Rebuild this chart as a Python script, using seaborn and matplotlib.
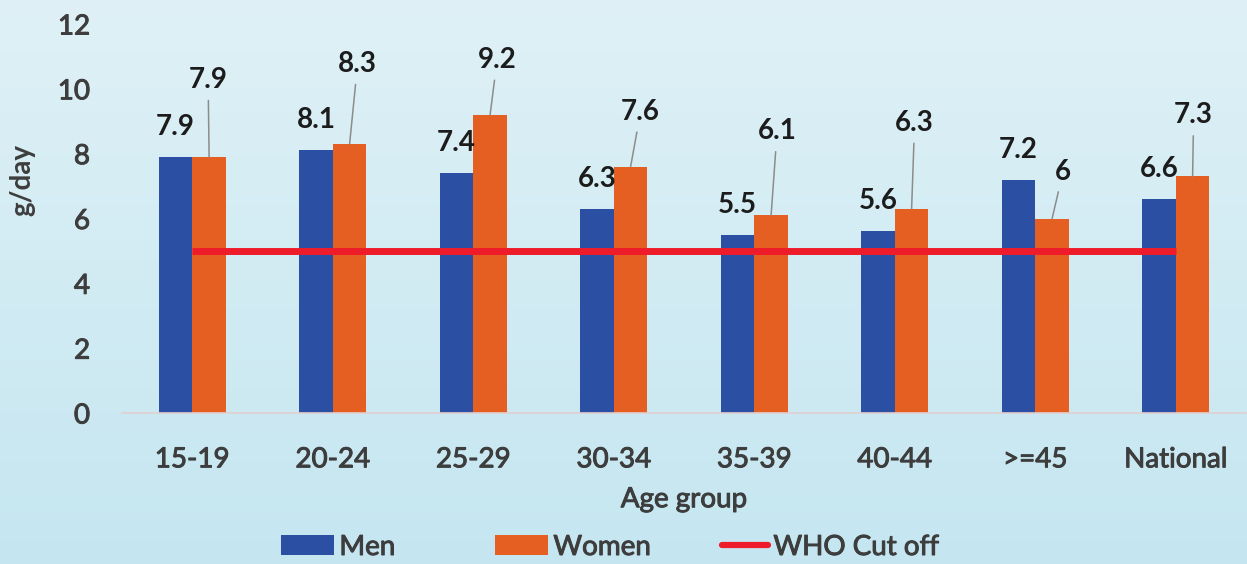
import numpy as np
import pandas as pd
import matplotlib
matplotlib.use("Agg")
import matplotlib.pyplot as plt
import matplotlib.patheffects as pe
from matplotlib.patches import Patch
from matplotlib.lines import Line2D
import seaborn as sns

# Salt intake (g/day) by age group and sex
age_groups = ["15-19", "20-24", "25-29", "30-34", "35-39", "40-44", ">=45", "National"]
men = [7.9, 8.1, 7.4, 6.3, 5.5, 5.6, 7.2, 6.6]
women = [7.9, 8.3, 9.2, 7.6, 6.1, 6.3, 6.0, 7.3]
who_cutoff = 5
y_ticks = [0, 2, 4, 6, 8, 10, 12]

# label placement for the women's values (pixel offsets from bar top)
women_label_offsets = [(-1, 77), (8, 80), (7, 55), (10, 55), (6, 84), (3, 86), (11, 47), (1, 61)]

MEN_C = "#2B4FA3"
WOMEN_C = "#E55F22"
RED = "#EE1C2A"
TXT = "#3d3d3d"

df = pd.DataFrame({
    "Age group": age_groups * 2,
    "value": men + women,
    "sex": ["Men"] * len(men) + ["Women"] * len(women),
})

sns.set_theme(style="white")
plt.rcParams["font.family"] = ["Lato", "DejaVu Sans"]

# slightly heavier strokes for the regular-weight texts
heavy = [pe.withStroke(linewidth=0.7, foreground=TXT)]

fig = plt.figure(figsize=(12.47, 5.64), dpi=100)

# soft light-blue gradient backdrop
bg = fig.add_axes([0, 0, 1, 1], zorder=-10)
top = np.array([223, 241, 246]) / 255
bot = np.array([197, 230, 241]) / 255
t = np.linspace(0, 1, 256)[:, None, None]
grad = top * (1 - t) + bot * t
grad = np.repeat(grad, 4, axis=1)
bg.imshow(grad, aspect="auto", extent=[0, 1, 0, 1])
bg.axis("off")

ax = fig.add_axes([122 / 1247, 151 / 564, 1124 / 1247, 389 / 564])
ax.patch.set_alpha(0)

sns.barplot(data=df, x="Age group", y="value", hue="sex",
            palette=[MEN_C, WOMEN_C], width=0.48, gap=0, saturation=1,
            edgecolor="none", linewidth=0, legend=False, ax=ax, zorder=2)

n = len(age_groups)
ax.plot([0, n - 1], [who_cutoff, who_cutoff], color=RED, lw=5,
        solid_capstyle="butt", zorder=3)

ax.set_xlim(-0.5, n - 0.5)
ax.set_ylim(0, 12)
ax.set_yticks(y_ticks)
ax.set_yticklabels([str(v) for v in y_ticks])

for s in ["top", "right", "left"]:
    ax.spines[s].set_visible(False)
ax.spines["bottom"].set_color("#e3cfcf")
ax.spines["bottom"].set_linewidth(1.2)

ax.tick_params(axis="y", length=0, pad=23, labelsize=20, labelcolor=TXT)
ax.tick_params(axis="x", length=0, pad=24, labelsize=20, labelcolor=TXT)
for lab in ax.get_xticklabels() + ax.get_yticklabels():
    lab.set_path_effects(heavy)

ax.set_xlabel("Age group", fontsize=20, color=TXT, labelpad=10)
ax.xaxis.label.set_path_effects(heavy)
ax.set_ylabel("g/day", fontsize=20, color=TXT, fontweight="bold")
ax.yaxis.set_label_coords(-0.089, 0.60)
ax.yaxis.label.set_va("center")

label_kw = dict(fontsize=20, fontweight="bold", color="#1c1c1c",
                ha="center", va="center", textcoords="offset pixels", zorder=5)

men_bars, women_bars = ax.containers[0], ax.containers[1]
for bar, v in zip(men_bars, men):
    x = bar.get_x() + bar.get_width() / 2
    ax.annotate(f"{v:g}", (x, bar.get_height()), xytext=(0, 30), **label_kw)

for bar, v, (dx, dy) in zip(women_bars, women, women_label_offsets):
    x = bar.get_x() + bar.get_width() / 2
    ax.annotate(f"{v:g}", (x, bar.get_height()), xytext=(dx, dy),
                arrowprops=dict(arrowstyle="-", color="#8c8c8c", lw=1.1,
                                shrinkA=3, shrinkB=0),
                **label_kw)

# legend entries laid out along the bottom edge
entries = [
    (Patch(facecolor=MEN_C, edgecolor="none", label="Men"), 281, 1.9),
    (Patch(facecolor=WOMEN_C, edgecolor="none", label="Women"), 495, 1.9),
    (Line2D([0], [0], color=RED, lw=4.5, label="WHO Cut off"), 722, 1.65),
]
for handle, x_left, hlen in entries:
    leg = fig.legend(handles=[handle], loc="center left",
                     bbox_to_anchor=(x_left / 1247, 17 / 564),
                     frameon=False, fontsize=20, handlelength=hlen,
                     handleheight=0.75, handletextpad=0.2,
                     borderaxespad=0, borderpad=0)
    for txt in leg.get_texts():
        txt.set_color(TXT)
        txt.set_path_effects(heavy)

fig.savefig("out.png", dpi=100)
